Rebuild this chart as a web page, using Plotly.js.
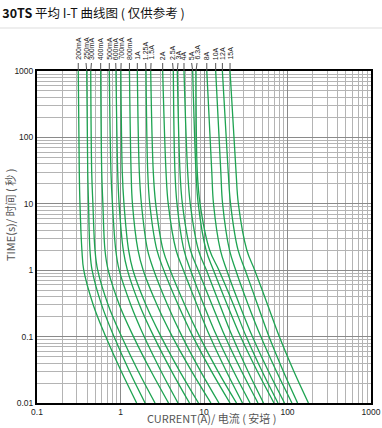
<!DOCTYPE html>
<html>
<head>
<meta charset="utf-8">
<script src="https://cdn.plot.ly/plotly-3.0.1.min.js"></script>
<style>html,body{margin:0;padding:0;background:#fff;}#chart{width:382px;height:428px;}</style>
</head>
<body>
<div id="chart"></div>
<script>
const TIMES = [1000, 30, 10, 2, 1, 0.3, 0.1, 0.03, 0.01];

// Fuse ratings (top labels)
const RATINGS = ['200mA','250mA','300mA','400mA','500mA','600mA','700mA','800mA','1A','1.25A','1.5A',
                 '2A','2.5A','3A','4A','5A','6.3A','8A','10A','12A','15A'];

// Current (A) of each curve at the TIMES above
const c200mA = [0.312, 0.321, 0.327, 0.345, 0.363, 0.472, 0.665, 1.02, 1.56];
const c250mA = [0.394, 0.405, 0.414, 0.431, 0.457, 0.594, 0.836, 1.28, 1.97];
const c300mA = [0.440, 0.452, 0.467, 0.495, 0.533, 0.712, 1.03, 1.63, 2.59];
const c400mA = [0.579, 0.596, 0.615, 0.652, 0.712, 0.970, 1.43, 2.32, 3.76];
const c500mA = [0.734, 0.769, 0.800, 0.878, 0.965, 1.33, 1.92, 3.06, 4.88];
const c600mA = [0.883, 0.926, 0.962, 1.08, 1.21, 1.69, 2.51, 4.10, 6.70];
const c700mA = [1.01, 1.05, 1.10, 1.25, 1.41, 2.02, 3.06, 5.13, 8.59];
const c800mA = [1.28, 1.34, 1.39, 1.62, 1.87, 2.74, 4.18, 7.12, 12.1];
const c1A    = [1.59, 1.68, 1.78, 2.11, 2.50, 3.66, 5.48, 9.11, 15.1];
const c1_25A = [2.02, 2.12, 2.24, 2.73, 3.30, 4.91, 7.38, 12.3, 20.5];
const c1_5A  = [2.30, 2.47, 2.64, 3.24, 3.94, 5.89, 8.86, 14.7, 24.5];
const c2A    = [3.20, 3.51, 3.73, 4.63, 5.67, 8.25, 11.8, 18.5, 28.9];
const c2_5A  = [4.29, 4.49, 4.75, 5.76, 6.91, 9.95, 14.3, 22.6, 35.6];
const c3A    = [4.79, 5.16, 5.51, 6.89, 8.52, 12.5, 17.9, 28.2, 44.3];
const c4A    = [5.76, 6.38, 6.85, 8.59, 10.7, 15.5, 21.9, 33.6, 51.6];
const c5A    = [7.32, 8.02, 8.53, 10.6, 13.0, 19.0, 27.4, 43.5, 68.9];
const c6_3A  = [8.02, 8.31, 8.97, 11.7, 15.1, 22.6, 32.0, 49.6, 76.9];
const c8A    = [10.8, 12.4, 13.0, 15.7, 18.7, 26.7, 38.0, 59.1, 92.1];
const c10A   = [13.8, 15.9, 16.7, 20.2, 24.0, 33.9, 47.9, 73.6, 113];
const c12A   = [16.6, 19.5, 20.8, 25.6, 31.2, 43.9, 60.0, 89.0, 132];
const c15A   = [20.5, 24.2, 25.8, 32.6, 40.5, 57.9, 79.8, 119, 178];

const X_TICKS = [0.1, 1, 10, 100, 1000];
const X_TICKTEXT = ['0.1', '1', '10', '100', '1000'];
const Y_TICKS = [0.01, 0.1, 1, 10, 100, 1000];
const Y_TICKTEXT = ['0.01', '0.1', '1', '10', '100', '1000'];

const CURVES = [c200mA, c250mA, c300mA, c400mA, c500mA, c600mA, c700mA, c800mA, c1A, c1_25A, c1_5A,
                c2A, c2_5A, c3A, c4A, c5A, c6_3A, c8A, c10A, c12A, c15A];

const GREEN = '#1ea351';
const traces = CURVES.map((cur, i) => ({
  type: 'scatter', mode: 'lines', x: cur, y: TIMES, name: RATINGS[i],
  line: {color: GREEN, width: 1.3, shape: 'spline', smoothing: 1},
  hoverinfo: 'skip', showlegend: false
}));

const W = 382, H = 428, ML = 37, MR = 11, MT = 71, MB = 25;
const PW = W - ML - MR, PH = H - MT - MB;
const xFrac = v => (Math.log10(v) + 1) / 4;
const pyFrac = py => (H - MB - py) / PH;   // pixel row -> paper y
const pxFrac = px => (px - ML) / PW;        // pixel col -> paper x

// spread the rotated rating labels so they do not collide
const topPx = CURVES.map(c => ML + xFrac(c[0]) * PW);
const labPx = topPx.slice();
const GAP = 5.4;
for (let it = 0; it < 200; it++) {
  for (let i = 1; i < labPx.length; i++) {
    const d = labPx[i] - labPx[i - 1];
    if (d < GAP) { const s = (GAP - d) / 2; labPx[i - 1] -= s; labPx[i] += s; }
  }
}

const annotations = [];
const shapes = [];
CURVES.forEach((cur, i) => {
  annotations.push({
    xref: 'paper', yref: 'paper', x: pxFrac(labPx[i]), y: pyFrac(62), xanchor: 'center', yanchor: 'bottom',
    text: RATINGS[i], textangle: -90, showarrow: false,
    font: {family: 'Liberation Sans, Arial, sans-serif', size: 7, color: '#222'}
  });
  shapes.push({
    type: 'line', xref: 'paper', yref: 'paper', x0: pxFrac(topPx[i]), x1: pxFrac(labPx[i]), y0: 1, y1: pyFrac(63),
    line: {color: '#555', width: 1}
  });
});
// separator line under title
shapes.push({type: 'line', xref: 'paper', yref: 'paper', x0: pxFrac(0), x1: pxFrac(W),
  y0: pyFrac(28), y1: pyFrac(28), line: {color: '#dddddd', width: 1}});

annotations.push({
  xref: 'paper', yref: 'paper', x: pxFrac(212), y: pyFrac(428), xanchor: 'center', yanchor: 'bottom',
  text: 'CURRENT(A)/ 电流 ( 安培 )', showarrow: false,
  font: {family: 'Noto Sans CJK SC, Liberation Sans, sans-serif', size: 11, color: '#555'}
});
annotations.push({
  xref: 'paper', yref: 'paper', x: pxFrac(10), y: pyFrac(215), xanchor: 'center', yanchor: 'middle',
  text: 'TIME(s)/ 时间 ( 秒 )', textangle: -90, showarrow: false,
  font: {family: 'Noto Sans CJK SC, Liberation Sans, sans-serif', size: 11, color: '#555'}
});

const layout = {
  width: W, height: H,
  margin: {l: ML, r: MR, t: MT, b: MB},
  paper_bgcolor: '#fff', plot_bgcolor: '#fff',
  title: {
    text: '<b>30TS</b> 平均 I-T 曲线图 ( 仅供参考 )',
    xref: 'container', yref: 'container', x: 0.006, xanchor: 'left', y: 1 - 14 / H, yanchor: 'middle',
    font: {family: 'Noto Sans CJK SC, Liberation Sans, sans-serif', size: 12.5, color: '#111'}
  },
  xaxis: {
    type: 'log', range: [-1, 3], tickvals: X_TICKS, ticktext: X_TICKTEXT,
    showgrid: true, gridcolor: '#8a8a8a', gridwidth: 1,
    minor: {dtick: 'D1', showgrid: true, gridcolor: '#b4b4b4', gridwidth: 1, ticks: ''},
    showline: true, mirror: true, linecolor: '#000', linewidth: 2,
    ticks: '', zeroline: false,
    tickfont: {family: 'Liberation Sans, Arial, sans-serif', size: 8.5, color: '#222'}
  },
  yaxis: {
    type: 'log', range: [-2, 3], tickvals: Y_TICKS, ticktext: Y_TICKTEXT,
    showgrid: true, gridcolor: '#8a8a8a', gridwidth: 1,
    minor: {dtick: 'D1', showgrid: true, gridcolor: '#b4b4b4', gridwidth: 1, ticks: ''},
    showline: true, mirror: true, linecolor: '#000', linewidth: 2,
    ticks: '', zeroline: false,
    tickfont: {family: 'Liberation Sans, Arial, sans-serif', size: 8.5, color: '#222'}
  },
  annotations: annotations,
  shapes: shapes,
  showlegend: false
};

Plotly.newPlot('chart', traces, layout, {staticPlot: true, displayModeBar: false});
</script>
</body>
</html>
